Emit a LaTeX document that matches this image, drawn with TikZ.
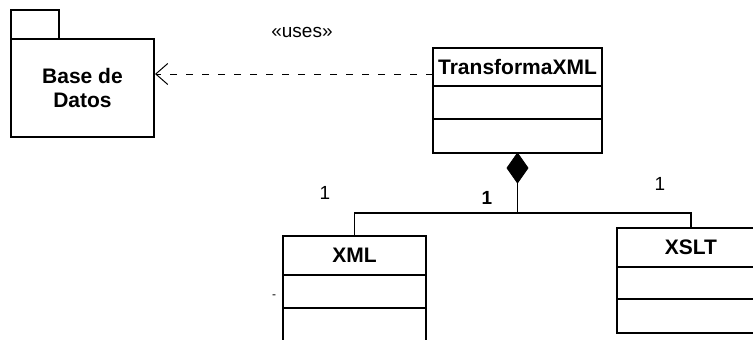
\documentclass[tikz,border=0pt]{standalone}
\usepackage{fontspec}
\setmainfont{Liberation Sans}
\usetikzlibrary{arrows.meta,shapes.geometric}
\begin{document}
\begin{tikzpicture}[x=1pt,y=-1pt,
  box/.style={draw,line width=1.8pt,rectangle,inner sep=0pt,outer sep=0pt},
  nametext/.style={font=\fontsize{21}{24}\selectfont\bfseries},
  plaintext/.style={font=\fontsize{19}{22}\selectfont,inner sep=0pt},
  link/.style={line width=1.3pt},
  depend/.style={line width=1pt,dash pattern=on 7.5pt off 8.5pt,
    -{Straight Barb[length=12pt,width=21pt,line width=1pt]}}]
\useasboundingbox (0,0) rectangle (753,340);

% package Base de Datos
\node[box,minimum width=143pt,minimum height=98pt] (pkg) at (82.5,88) {};
\node[box,minimum width=48pt,minimum height=29pt,anchor=south west] (tab) at (pkg.north west) {};
\node[nametext,align=center] (pkgname) at (pkg.center) {Base de\\Datos};

% class TransformaXML
\node[box,nametext,minimum width=169pt,minimum height=38pt] (tx) at (517.5,67) {TransformaXML};
\node[box,minimum width=169pt,minimum height=33pt,anchor=north] (txa) at (tx.south) {};
\node[box,minimum width=169pt,minimum height=34pt,anchor=north] (txb) at (txa.south) {};

% class XML
\node[box,nametext,minimum width=143pt,minimum height=39pt] (xml) at (354.5,255.5) {XML};
\node[box,minimum width=143pt,minimum height=33pt,anchor=north] (xmla) at (xml.south) {};
\node[box,minimum width=143pt,minimum height=40pt,anchor=north] (xmlb) at (xmla.south) {};

% class XSLT
\node[box,nametext,minimum width=148pt,minimum height=39pt] (xslt) at (691,247.5) {XSLT};
\node[box,minimum width=148pt,minimum height=32pt,anchor=north] (xslta) at (xslt.south) {};
\node[box,minimum width=148pt,minimum height=34pt,anchor=north] (xsltb) at (xslta.south) {};

% dependency
\coordinate (depstart) at ([yshift=-7pt]tx.west);
\draw[depend] (depstart) -- ([xshift=1pt]pkg.east |- depstart);
\node[plaintext] (uses) at (302,32) {«uses»};

% composition
\node[draw,fill=black,diamond,inner sep=0pt,outer sep=0pt,minimum width=21pt,minimum height=30pt,
  anchor=north,line width=0.8pt] (dia) at (txb.south) {};
\coordinate (junction) at (517.5,213);
\draw[link] (dia.south) -- (junction);
\draw[link] (junction) -| (xml.north);
\draw[link] (junction) -| (xslt.north);

% multiplicities
\node[plaintext] (m1) at (325,193) {1};
\node[plaintext,font=\fontsize{19}{22}\selectfont\bfseries] (m2) at (487,198) {1};
\node[plaintext] (m3) at (660,184) {1};
\node[plaintext,font=\fontsize{12}{14}\selectfont] (dash) at (274,297) {-};
\end{tikzpicture}
\end{document}
